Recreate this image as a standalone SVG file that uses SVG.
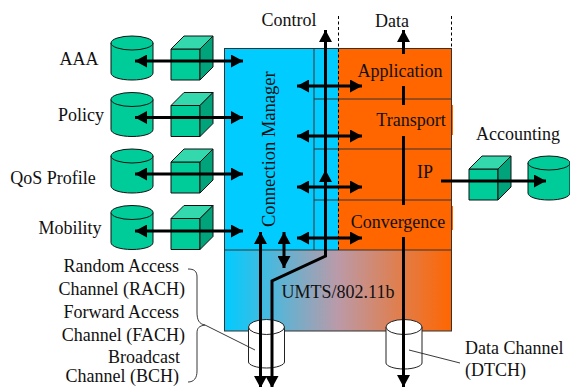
<svg xmlns="http://www.w3.org/2000/svg" xmlns:xlink="http://www.w3.org/1999/xlink" width="570" height="387" viewBox="0 0 570 387">
<style>
text{font-family:"Liberation Serif","Times New Roman",serif;font-size:18px;fill:#111}
.g{fill:#00cc99;stroke:#111;stroke-width:1}
.gt{fill:#33d9ad;stroke:#111;stroke-width:1}
.gs{fill:#00a37a;stroke:#111;stroke-width:1}
.w{fill:#fff;stroke:#222;stroke-width:1}
.t{fill:none;stroke:#000;stroke-width:3}
.l{fill:none;stroke:#333;stroke-width:1}
.d{fill:none;stroke:#000;stroke-width:1;stroke-dasharray:3 2.5}
.thin{fill:none;stroke:#222;stroke-width:.9}
</style>
<defs>
<linearGradient id="grad" x1="0" x2="1" y1="0" y2="0">
<stop offset="0" stop-color="#00ccff"/><stop offset=".5" stop-color="#bb9aa8"/><stop offset="1" stop-color="#ff6600"/>
</linearGradient>
<marker id="a" viewBox="0 0 12 13" refX="12" refY="6.500" markerWidth="12" markerHeight="13" markerUnits="userSpaceOnUse" orient="auto-start-reverse"><path d="M0 0L12 6.500L0 13z" fill="#000"/></marker>
<g id="cyl"><path class="g" d="M111 43v30c0 4 9 7 21 7s21-3 21-7V43z"/><ellipse class="g" cx="132" cy="43" rx="21" ry="7"/></g>
<g id="cube"><path class="g" d="M171 49h29v31h-29z"/><path class="gt" d="M171 49l13-13h29l-13 13z"/><path class="gs" d="M200 49l13-13v31l-13 13z"/></g>
</defs>
<g id="panel">
<rect x="224.500" y="48.500" width="114" height="202" fill="#00ccff" stroke="none"/>
<rect x="338" y="48.500" width="113" height="202" fill="#ff6600" stroke="none"/>
<rect x="224.500" y="250" width="227" height="81" fill="url(#grad)"/>
<rect x="224.500" y="48.500" width="227" height="282.500" class="l"/>
<path class="l" d="M224 250H451M314 48.500V250M314 99H451M314 149H451M314 200H451"/>
<path class="d" d="M338.500 16V250M451.500 16V48"/>
<path d="M452 105h1v30h-1zM452 206h1v24h-1z" fill="#ff6600"/>
</g>
<g id="aaa"><use href="#cyl"/><use href="#cube"/><text x="79" y="65" text-anchor="middle">AAA</text></g>
<g id="policy"><use href="#cyl" y="56.500"/><use href="#cube" y="56.500"/><text x="81" y="121" text-anchor="middle">Policy</text></g>
<g id="qos"><use href="#cyl" y="113"/><use href="#cube" y="113"/><text x="53" y="184" text-anchor="middle">QoS Profile</text></g>
<g id="mobility"><use href="#cyl" y="169.500"/><use href="#cube" y="169.500"/><text x="70" y="234" text-anchor="middle">Mobility</text></g>
<g id="accounting"><use href="#cube" x="298" y="120"/><use href="#cyl" x="417" y="120"/><text x="518" y="140" text-anchor="middle">Accounting</text></g>
<g id="labels">
<text x="289" y="26" text-anchor="middle">Control</text>
<text x="392" y="27" text-anchor="middle">Data</text>
<text x="400" y="77" text-anchor="middle">Application</text>
<text x="411" y="126" text-anchor="middle">Transport</text>
<text x="425" y="178" text-anchor="middle">IP</text>
<text x="398" y="228" text-anchor="middle">Convergence</text>
<text x="338" y="298" text-anchor="middle" fill="#222">UMTS/802.11b</text>
<text transform="translate(275 227) rotate(-90)" style="font-size:18.500px">Connection Manager</text>
<text x="179" y="272" text-anchor="end">Random Access</text>
<text x="185" y="295" text-anchor="end">Channel (RACH)</text>
<text x="179" y="318" text-anchor="end">Forward Access</text>
<text x="185" y="341" text-anchor="end">Channel (FACH)</text>
<text x="180" y="363" text-anchor="end">Broadcast</text>
<text x="179" y="382" text-anchor="end">Channel (BCH)</text>
<text x="465" y="354">Data Channel</text>
<text x="465" y="376">(DTCH)</text>
</g>
<g id="cylinders">
<path class="w" d="M248.500 327v35c0 3 8 6 18 6s18-3 18-6V327z"/><ellipse class="w" cx="266.500" cy="327" rx="18" ry="7.500"/>
<path class="w" d="M386 327v36c0 3 8 6 18 6s18-3 18-6V327z"/><ellipse class="w" cx="404" cy="327" rx="18" ry="7.500"/>
</g>
<g id="connectors">
<path class="t" marker-start="url(#a)" marker-end="url(#a)" d="M135 61H243"/>
<path class="t" marker-start="url(#a)" marker-end="url(#a)" d="M135 117.500H243"/>
<path class="t" marker-start="url(#a)" marker-end="url(#a)" d="M135 174H243"/>
<path class="t" marker-start="url(#a)" marker-end="url(#a)" d="M135 231H243"/>
<path class="t" marker-start="url(#a)" marker-end="url(#a)" d="M297 86H362"/>
<path class="t" marker-start="url(#a)" marker-end="url(#a)" d="M297 136H362"/>
<path class="t" marker-start="url(#a)" marker-end="url(#a)" d="M297 187H362"/>
<path class="t" marker-start="url(#a)" marker-end="url(#a)" d="M297 238H362"/>
<path class="t" marker-start="url(#a)" marker-end="url(#a)" d="M272 388V281L325.500 256V30"/>
<path class="t" marker-end="url(#a)" d="M325.500 200V170"/>
<path class="t" marker-start="url(#a)" marker-end="url(#a)" d="M260.500 232V388"/>
<path class="t" marker-start="url(#a)" marker-end="url(#a)" d="M284 232V268"/>
<path class="t" marker-end="url(#a)" d="M403.500 54V30"/>
<path class="t" d="M403.500 86V105"/>
<path class="t" d="M403.500 136V205"/>
<path class="t" marker-end="url(#a)" d="M403.500 237V387"/>
<path class="t" marker-end="url(#a)" d="M441 181H546"/>
<path class="thin" d="M188 269c6 0 9 2 9 8v35c0 8 2 12 8 13c-6 1-8 3-8 8v38c0 7-3 11-9 11"/>
<path class="thin" d="M205 325L255 350"/>
<path class="thin" d="M409 350L460 363"/>
</g>
</svg>
